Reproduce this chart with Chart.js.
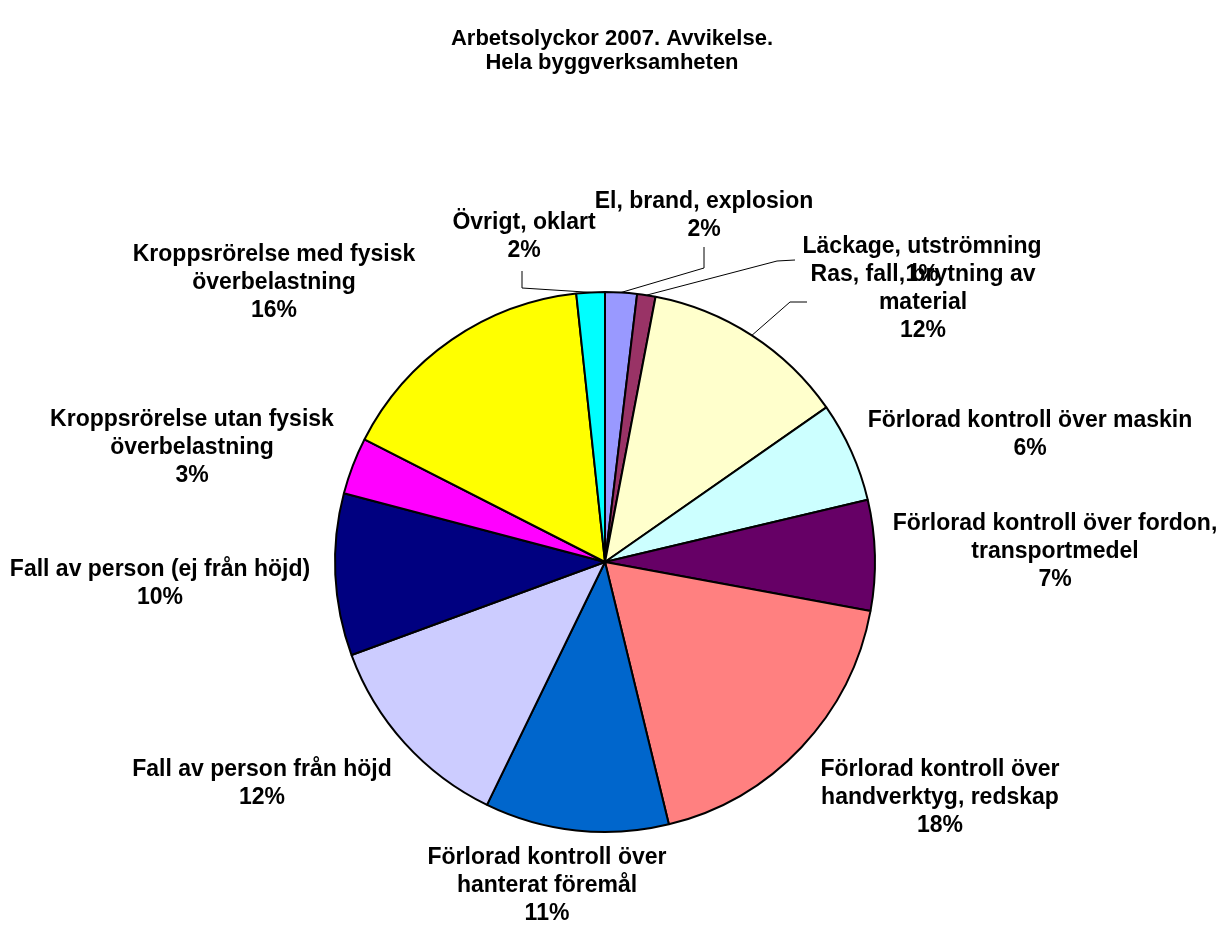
<!DOCTYPE html>
<html>
<head>
<meta charset="utf-8">
<title>Arbetsolyckor 2007. Avvikelse.</title>
<script src="https://cdn.jsdelivr.net/npm/chart.js@4.4.0/dist/chart.umd.min.js"></script>
<style>
  html, body { margin: 0; padding: 0; background: #fff; }
  canvas { display: block; }
</style>
</head>
<body>
<canvas id="pieChart" width="1224" height="927"></canvas>
<script>
/*=============== DATA ===============*/
const titleLines = ['Arbetsolyckor 2007. Avvikelse.', 'Hela byggverksamheten']

// slice names, split the way the labels wrap
const categories = [
  ['El, brand, explosion'],
  ['Läckage, utströmning'],
  ['Ras, fall, brytning av', 'material'],
  ['Förlorad kontroll över maskin'],
  ['Förlorad kontroll över fordon,', 'transportmedel'],
  ['Förlorad kontroll över', 'handverktyg, redskap'],
  ['Förlorad kontroll över', 'hanterat föremål'],
  ['Fall av person från höjd'],
  ['Fall av person (ej från höjd)'],
  ['Kroppsrörelse utan fysisk', 'överbelastning'],
  ['Kroppsrörelse med fysisk', 'överbelastning'],
  ['Övrigt, oklart']
]

// share of accidents (%)
const shares = [1.9, 1.1, 12.3, 6.0, 6.6, 18.3, 11.0, 12.2, 9.7, 3.4, 15.8, 1.7]

const sliceColors = [
  '#9999FF', '#993366', '#FFFFCC', '#CCFFFF', '#660066', '#FF8080',
  '#0066CC', '#CCCCFF', '#000080', '#FF00FF', '#FFFF00', '#00FFFF'
]

/*=============== LABEL LAYOUT ===============*/
// label block centre, offset from the pie centre (px); leader = elbow points
const labelSpots = [
  { dx: 99,   dy: -346, leader: [[99, -294], [99, -315]] },
  { dx: 317,  dy: -301, leader: [[172, -301], [190, -302]] },
  { dx: 318,  dy: -259, leader: [[185, -260], [202, -260]] },
  { dx: 425,  dy: -127 },
  { dx: 450,  dy: -10 },
  { dx: 335,  dy: 236 },
  { dx: -58,  dy: 324 },
  { dx: -343, dy: 222 },
  { dx: -445, dy: 22 },
  { dx: -413, dy: -114 },
  { dx: -331, dy: -279 },
  { dx: -81,  dy: -325, leader: [[-83, -274], [-83, -291]] }
]

const fontFamily = '"Liberation Sans", Arial, sans-serif'
const lineGap = 28

/*=============== TITLE + OUTSIDE LABELS ===============*/
const outsideLabels = {
  id: 'outsideLabels',
  afterDraw(chart) {
    const ctx = chart.ctx
    const total = shares.reduce((a, b) => a + b, 0)
    ctx.save()
    ctx.fillStyle = '#000'
    ctx.textAlign = 'center'
    ctx.textBaseline = 'middle'

    // title
    ctx.font = 'bold 22px ' + fontFamily
    titleLines.forEach((t, k) => ctx.fillText(t, chart.width / 2, 39 + k * 24))

    // slice labels
    ctx.font = 'bold 23px ' + fontFamily
    ctx.strokeStyle = '#000'
    ctx.lineWidth = 1
    chart.getDatasetMeta(0).data.forEach((arc, i) => {
      const {x, y, outerRadius, startAngle, endAngle} =
        arc.getProps(['x', 'y', 'outerRadius', 'startAngle', 'endAngle'], true)
      const spot = labelSpots[i]
      const mid = (startAngle + endAngle) / 2

      // leader line from the slice edge
      if (spot.leader) {
        ctx.beginPath()
        ctx.moveTo(x + Math.cos(mid) * outerRadius, y + Math.sin(mid) * outerRadius)
        spot.leader.forEach(p => ctx.lineTo(x + p[0], y + p[1]))
        ctx.stroke()
      }

      const lines = categories[i].concat(Math.round(shares[i] / total * 100) + '%')
      const top = y + spot.dy - (lines.length - 1) * lineGap / 2
      lines.forEach((t, k) => ctx.fillText(t, x + spot.dx, top + k * lineGap))
    })
    ctx.restore()
  }
}

/*=============== CHART ===============*/
new Chart(document.getElementById('pieChart'), {
  type: 'pie',
  data: {
    labels: categories.map(c => c.join(' ')),
    datasets: [{
      data: shares,
      backgroundColor: sliceColors,
      borderColor: '#000',
      borderWidth: 2
    }]
  },
  options: {
    responsive: false,
    animation: false,
    layout: { padding: { top: 291, bottom: 94, left: 0, right: 14 } },
    plugins: {
      legend: { display: false },
      title: { display: false },
      tooltip: { enabled: false }
    }
  },
  plugins: [outsideLabels]
})
</script>
</body>
</html>
